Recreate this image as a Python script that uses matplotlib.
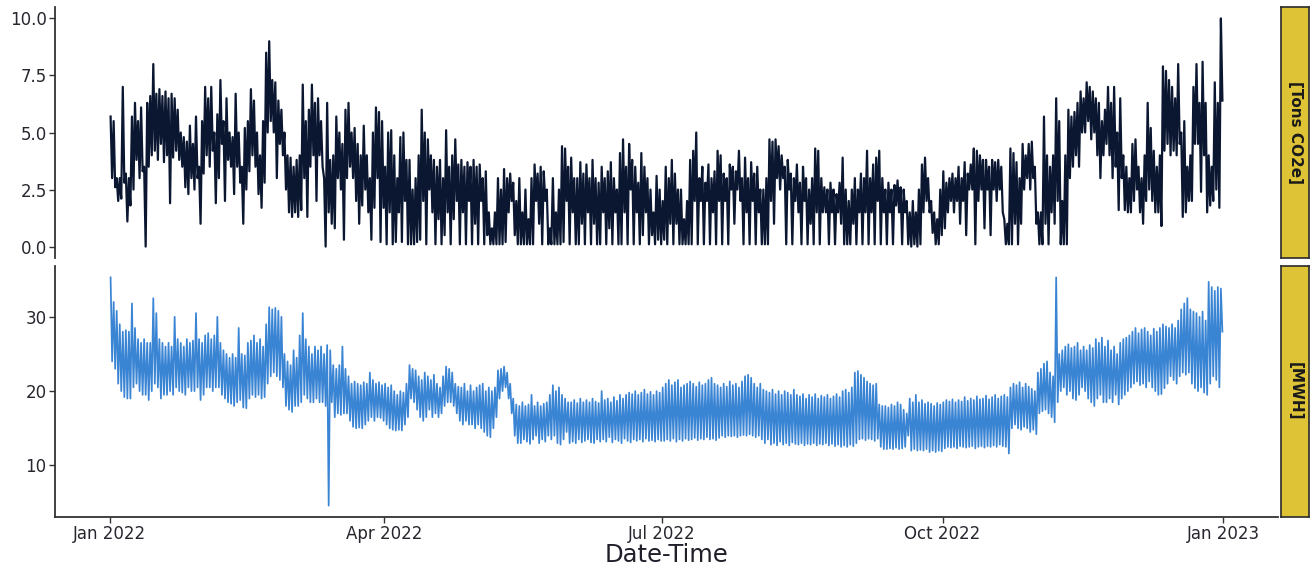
import numpy as np
import pandas as pd
import matplotlib
matplotlib.use("Agg")
import matplotlib.pyplot as plt
import matplotlib.dates as mdates
from matplotlib.ticker import FormatStrFormatter

plt.rcParams['font.family'] = ['DejaVu Sans']

# ---------------- data (daily high / low) ----------------
start_date = "2022-01-01"

co2_high = [
    # Jan
    5.7, 5.5, 3.0, 3.0, 7.0, 3.2, 3.0, 5.7, 6.3, 5.5, 6.1, 3.5, 6.3, 6.6, 8.0, 6.7,
    6.9, 6.6, 6.8, 6.5, 6.7, 6.5, 6.0, 5.0, 4.8, 4.6, 5.3, 4.5, 5.7, 3.5, 5.5,
    # Feb
    7.0, 6.5, 7.0, 5.0, 5.8, 7.3, 5.5, 6.5, 5.0, 4.8, 6.7, 5.0, 3.5, 5.2, 5.5, 6.9,
    6.4, 5.0, 4.0, 5.5, 8.5, 9.0, 7.3, 7.2, 6.4, 6.0, 5.0, 4.0,
    # Mar
    3.9, 3.5, 3.8, 4.0, 7.1, 5.5, 6.0, 7.1, 6.3, 6.5, 5.5, 3.0, 6.3, 3.8, 4.0, 5.7,
    5.0, 4.5, 6.0, 6.3, 5.0, 5.2, 4.5, 4.0, 5.3, 4.0, 3.0, 5.0, 6.1, 5.9, 5.5,
    # Apr
    3.5, 5.0, 5.1, 4.0, 3.0, 4.8, 5.0, 3.8, 3.8, 2.5, 3.0, 4.0, 6.0, 5.0, 4.7, 4.0,
    3.8, 3.5, 3.8, 3.0, 5.1, 3.5, 4.0, 4.7, 3.6, 3.8, 3.5, 3.7, 3.5, 3.8,
    # May
    3.5, 3.6, 3.0, 3.3, 1.5, 0.8, 1.5, 3.0, 2.5, 3.4, 3.0, 3.2, 2.8, 2.0, 3.0, 1.5,
    2.5, 1.2, 3.0, 3.6, 3.2, 3.5, 3.3, 2.5, 0.8, 3.0, 1.5, 2.5, 4.4, 4.3, 3.5,
    # Jun
    3.9, 3.0, 3.0, 3.7, 3.2, 3.6, 3.0, 3.8, 3.0, 2.8, 3.5, 3.0, 3.3, 3.7, 3.0, 2.5,
    4.1, 4.7, 3.5, 4.5, 3.8, 3.5, 2.8, 4.1, 3.5, 3.0, 2.5, 1.5, 3.1, 2.5,
    # Jul
    2.0, 3.5, 3.0, 3.8, 3.2, 2.5, 2.5, 1.2, 2.0, 3.8, 4.2, 5.0, 3.0, 3.5, 2.8, 3.6,
    3.0, 3.3, 4.2, 4.0, 3.2, 3.0, 3.6, 3.5, 3.3, 4.2, 3.0, 3.9, 3.0, 3.7, 3.2,
    # Aug
    3.5, 2.5, 2.5, 3.0, 4.7, 4.6, 4.7, 4.4, 4.0, 3.5, 3.8, 3.2, 3.0, 3.6, 2.8, 3.5,
    3.0, 2.5, 3.0, 4.3, 4.2, 3.0, 2.6, 2.5, 2.8, 2.5, 2.3, 2.8, 3.9, 2.5, 2.0,
    # Sep
    2.5, 3.0, 2.5, 3.2, 3.0, 4.2, 3.0, 3.6, 3.9, 4.2, 3.0, 2.5, 2.8, 2.5, 2.7, 2.9,
    2.6, 2.5, 2.0, 1.5, 2.0, 1.5, 2.5, 3.6, 3.9, 3.0, 2.0, 1.5, 1.2, 2.5,
    # Oct
    3.3, 2.8, 3.0, 3.2, 3.0, 3.5, 3.0, 3.7, 3.2, 3.6, 4.3, 4.2, 4.0, 3.8, 3.8, 3.5,
    3.8, 3.7, 3.8, 3.5, 1.2, 1.0, 4.3, 4.1, 3.7, 3.0, 4.5, 4.0, 4.5, 4.6, 3.5,
    # Nov
    1.5, 1.5, 5.7, 4.0, 3.5, 4.0, 6.5, 5.5, 2.0, 4.0, 6.0, 5.7, 5.9, 6.3, 6.8, 6.5,
    7.2, 7.0, 6.8, 6.5, 6.3, 5.5, 6.0, 7.0, 6.3, 7.0, 5.0, 6.5, 4.0, 3.5,
    # Dec
    3.0, 4.5, 4.7, 3.5, 3.0, 4.0, 6.3, 5.2, 4.2, 3.5, 4.0, 7.9, 7.7, 7.3, 7.0, 6.5,
    8.0, 5.0, 5.5, 3.5, 4.0, 7.0, 8.0, 6.3, 8.1, 6.3, 4.0, 3.5, 7.2, 6.3, 10.0,
]

co2_low = [
    # Jan
    3.0, 2.6, 2.0, 2.1, 2.8, 1.1, 1.8, 2.5, 3.8, 3.0, 3.3, 0.0, 3.5, 4.0, 4.2, 3.8,
    4.5, 3.7, 4.0, 1.9, 3.9, 4.2, 3.8, 3.5, 2.6, 2.3, 3.0, 2.5, 3.0, 1.0, 3.2,
    # Feb
    4.0, 3.5, 4.2, 1.9, 3.0, 4.5, 2.0, 3.8, 3.5, 2.3, 3.5, 2.8, 1.0, 2.5, 3.3, 4.0,
    3.5, 2.3, 1.7, 2.8, 5.0, 5.5, 5.0, 3.0, 4.5, 4.0, 2.5, 1.5,
    # Mar
    1.3, 1.5, 1.3, 1.6, 3.0, 1.3, 3.5, 4.0, 2.0, 4.0, 3.5, 0.0, 1.5, 1.0, 0.8, 3.0,
    2.5, 0.3, 3.0, 3.5, 3.0, 2.0, 1.0, 1.8, 2.5, 1.5, 0.3, 1.7, 3.0, 0.2, 1.7,
    # Apr
    0.1, 1.5, 0.1, 0.2, 1.5, 0.2, 2.0, 0.1, 0.1, 0.1, 0.2, 0.3, 2.0, 0.1, 2.5, 1.5,
    0.1, 1.2, 0.1, 0.5, 1.5, 0.1, 1.2, 2.0, 0.1, 1.5, 0.1, 2.0, 0.1, 1.0,
    # May
    0.1, 2.0, 0.1, 0.5, 0.1, 0.1, 0.1, 0.1, 0.1, 0.2, 1.5, 2.0, 0.5, 0.1, 0.1, 0.1,
    0.1, 0.1, 0.1, 2.0, 1.0, 0.1, 2.0, 0.1, 0.1, 0.1, 0.1, 0.1, 0.2, 2.0, 0.1,
    # Jun
    1.5, 0.1, 0.1, 1.0, 0.1, 1.5, 0.1, 1.0, 0.1, 0.1, 1.5, 0.1, 0.8, 0.1, 1.5, 0.1,
    0.1, 1.5, 0.1, 2.5, 0.1, 1.5, 0.1, 0.5, 1.5, 0.1, 0.5, 0.1, 0.3, 0.1,
    # Jul
    0.3, 0.1, 1.0, 0.1, 1.0, 0.1, 0.1, 0.1, 0.1, 0.1, 2.0, 0.1, 2.0, 0.1, 2.0, 0.1,
    1.5, 0.1, 2.0, 0.1, 2.0, 0.1, 2.5, 1.0, 2.5, 2.0, 0.1, 1.5, 0.1, 2.0, 0.1,
    # Aug
    1.5, 0.1, 0.1, 0.1, 2.0, 1.0, 3.0, 2.5, 3.0, 0.1, 2.5, 0.1, 2.0, 1.5, 0.1, 2.0,
    0.1, 1.0, 0.1, 1.5, 0.1, 1.5, 1.5, 0.1, 1.5, 0.1, 1.5, 1.0, 0.1, 0.1, 0.1,
    # Sep
    1.0, 0.1, 1.5, 0.1, 1.5, 0.1, 1.5, 0.1, 2.0, 0.1, 1.5, 0.1, 1.5, 0.1, 1.8, 1.5,
    0.1, 1.5, 0.1, 0.0, 0.1, 0.0, 0.1, 1.5, 2.0, 1.5, 0.6, 0.1, 0.1, 0.5,
    # Oct
    0.8, 1.5, 2.0, 1.5, 2.0, 1.0, 2.0, 0.5, 2.5, 2.5, 0.1, 2.0, 2.5, 0.8, 2.5, 0.5,
    2.5, 2.0, 2.5, 1.5, 0.1, 0.1, 0.1, 1.0, 0.1, 1.0, 2.5, 3.0, 2.5, 3.0, 1.0,
    # Nov
    0.1, 0.1, 1.0, 0.1, 1.5, 1.0, 2.0, 0.1, 0.1, 0.1, 3.0, 3.5, 4.0, 3.5, 5.0, 5.0,
    5.5, 4.7, 5.0, 4.0, 3.0, 4.0, 4.5, 4.0, 3.0, 3.5, 1.6, 3.0, 1.6, 1.5,
    # Dec
    1.5, 2.0, 2.5, 1.5, 1.0, 2.0, 2.5, 2.0, 1.5, 1.5, 0.9, 4.2, 4.5, 4.0, 4.2, 4.0,
    4.5, 1.3, 1.5, 2.0, 2.0, 4.5, 4.5, 2.4, 4.0, 1.5, 1.8, 2.0, 2.5, 1.7, 6.4,
]

mwh_high = [
    # Jan
    35.3, 32.0, 30.8, 29.0, 28.0, 28.2, 28.0, 31.8, 28.5, 27.0, 26.5, 27.0, 26.5, 26.5,
    32.5, 30.5, 27.0, 26.5, 26.0, 26.5, 26.0, 30.0, 27.0, 26.5, 26.0, 27.0, 26.5, 26.8,
    30.5, 27.0, 26.5,
    # Feb
    27.5, 27.8, 27.0, 27.5, 30.0, 26.5, 25.5, 25.0, 24.5, 25.0, 24.5, 28.5, 25.0, 24.8,
    26.5, 26.8, 27.5, 26.5, 27.0, 26.0, 29.0, 31.3, 31.0, 31.2, 30.8, 30.0, 25.0, 24.0,
    # Mar
    23.5, 25.5, 24.5, 27.5, 30.5, 27.0, 26.0, 25.0, 26.0, 25.5, 26.0, 25.0, 26.2, 25.5,
    23.5, 23.0, 23.5, 26.0, 23.0, 22.0, 21.0, 21.3, 21.0, 20.8, 21.2, 21.0, 22.5, 21.5,
    21.0, 21.2, 20.8,
    # Apr
    21.0, 20.5, 20.8, 20.0, 19.5, 20.0, 19.8, 21.0, 23.5, 23.0, 22.8, 22.0, 21.5, 22.5,
    22.0, 21.5, 22.2, 21.0, 20.5, 22.0, 23.3, 23.0, 22.5, 21.0, 20.6, 20.5, 21.0, 20.0,
    20.8, 20.0,
    # May
    20.5, 20.8, 21.0, 20.0, 20.5, 20.0, 20.5, 22.8, 23.0, 23.3, 22.5, 21.0, 19.0, 18.2,
    18.0, 18.5, 18.0, 18.2, 19.5, 18.0, 18.5, 18.0, 18.3, 18.5, 19.5, 20.8, 20.0, 20.5,
    19.5, 19.0, 18.5,
    # Jun
    18.5, 18.8, 18.4, 19.0, 18.5, 18.8, 18.5, 19.0, 18.6, 18.4, 20.0, 18.8, 19.0, 18.5,
    19.2, 18.7, 19.5, 19.0, 19.5, 19.8, 19.6, 20.0, 19.5, 19.8, 20.2, 19.6, 19.9, 19.5,
    20.0, 19.8,
    # Jul
    20.5, 21.0, 21.5, 20.8, 21.2, 21.5, 20.5, 20.8, 21.0, 21.3, 21.0, 20.6, 21.2, 20.8,
    21.0, 21.5, 21.8, 21.0, 20.8, 20.5, 21.0, 20.6, 21.3, 20.8, 21.0, 20.5, 21.3, 22.0,
    22.2, 21.8, 21.0,
    # Aug
    20.5, 21.0, 20.2, 20.0, 19.8, 20.2, 19.6, 20.0, 19.5, 20.0, 19.8, 19.5, 20.2, 19.5,
    19.3, 19.6, 19.0, 19.5, 19.2, 19.6, 19.0, 19.4, 19.2, 19.5, 19.0, 19.3, 19.6, 19.2,
    20.0, 20.2, 19.8,
    # Sep
    20.5, 22.5, 22.7, 22.2, 21.8, 21.3, 21.0, 20.8, 21.0, 18.2, 18.0, 18.0, 17.8, 18.2,
    18.0, 18.5, 18.2, 17.5, 17.0, 19.0, 18.5, 19.5, 18.5, 18.8, 18.3, 18.5, 18.3, 18.0,
    18.4, 18.2,
    # Oct
    18.5, 18.8, 18.6, 18.9, 18.5, 18.8, 18.6, 19.2, 18.7, 19.0, 18.8, 19.3, 18.9, 19.0,
    19.4, 18.9, 19.2, 19.5, 19.0, 19.3, 19.5, 19.2, 20.5, 21.0, 20.8, 21.2, 20.5, 21.0,
    20.6, 20.3, 20.0,
    # Nov
    22.5, 23.0, 23.7, 24.0, 22.5, 22.0, 35.3, 25.0, 25.5, 26.0, 26.3, 25.8, 26.0, 26.5,
    25.5, 26.0, 25.5, 26.2, 25.8, 27.0, 26.5, 27.2, 26.0, 26.8, 25.5, 26.0, 25.0, 26.5,
    27.0, 27.2,
    # Dec
    27.5, 28.0, 28.5, 27.8, 28.3, 28.5, 28.0, 27.5, 28.4, 28.0, 28.5, 29.0, 28.7, 28.5,
    29.0, 28.5, 29.5, 31.0, 31.8, 32.5, 31.0, 30.7, 30.5, 30.0, 30.7, 29.5, 34.7, 34.0,
    33.5, 34.0, 33.8,
]

mwh_low = [
    # Jan
    24.0, 23.0, 21.0, 20.0, 19.2, 19.0, 19.0, 20.5, 21.0, 20.0, 19.5, 19.5, 18.8, 20.0,
    21.0, 20.5, 19.0, 19.5, 19.5, 20.0, 19.5, 20.5, 20.0, 19.8, 19.5, 20.5, 20.0, 20.0,
    20.5, 18.8, 19.5,
    # Feb
    20.5, 20.5, 20.0, 20.5, 20.5, 19.5, 19.0, 18.5, 18.3, 18.0, 18.5, 18.8, 17.8, 17.7,
    19.0, 19.5, 19.2, 19.5, 19.0, 19.2, 21.0, 22.0, 22.5, 22.0, 21.5, 20.5, 18.0, 17.5,
    # Mar
    17.2, 18.0, 18.0, 18.5, 19.5, 19.0, 18.5, 18.5, 19.0, 18.5, 18.5, 18.0, 4.6, 18.5,
    16.5, 17.0, 16.8, 17.0, 17.0, 16.0, 15.2, 15.0, 15.1, 15.0, 15.5, 16.0, 16.5, 16.0,
    16.5, 16.4, 16.0,
    # Apr
    15.5, 15.0, 14.8, 14.7, 14.8, 14.7, 15.5, 16.5, 19.0, 18.5, 17.5, 16.5, 16.0, 16.5,
    17.5, 16.5, 17.0, 16.5, 17.0, 18.0, 18.5, 18.5, 18.0, 17.0, 16.0, 15.5, 16.0, 15.5,
    15.5, 15.0,
    # May
    15.5, 15.0, 14.5, 14.0, 13.8, 15.0, 16.5, 19.0, 20.0, 20.5, 19.0, 17.0, 14.0, 13.0,
    13.0, 13.5, 13.2, 12.9, 13.5, 14.0, 13.0, 13.5, 13.2, 14.0, 13.5, 14.0, 13.0, 12.8,
    13.5, 14.5, 13.0,
    # Jun
    13.2, 13.0, 13.5, 13.1, 13.3, 13.5, 13.1, 13.0, 13.5, 13.2, 13.5, 13.2, 13.8, 13.1,
    13.5, 13.3, 13.0, 13.6, 13.3, 13.1, 13.5, 13.3, 13.5, 13.2, 13.6, 13.3, 13.4, 13.2,
    13.5, 13.3,
    # Jul
    13.3, 13.5, 13.3, 13.6, 13.2, 13.5, 13.3, 13.6, 13.4, 13.5, 13.7, 13.4, 13.6, 13.5,
    13.8, 13.5, 13.6, 13.4, 13.7, 14.0, 13.8, 14.0, 13.9, 14.0, 13.8, 14.0, 14.1, 14.0,
    14.2, 14.0, 13.8,
    # Aug
    14.0, 13.5, 13.0, 13.5, 12.8, 13.0, 12.7, 13.2, 12.8, 13.0, 12.7, 13.1, 12.9, 12.8,
    13.0, 12.7, 12.9, 12.8, 13.0, 12.7, 12.9, 12.8, 13.0, 12.7, 12.9, 12.6, 12.8, 12.5,
    12.7, 12.5, 12.8,
    # Sep
    12.6, 13.0, 13.5, 13.6, 13.4, 13.6, 13.5, 13.3, 13.6, 12.5, 12.2, 12.2, 12.3, 12.2,
    12.4, 12.2, 12.3, 12.5, 14.0, 12.0, 12.2, 12.0, 12.1, 12.0, 12.2, 11.8, 12.0, 11.8,
    12.0, 11.9,
    # Oct
    12.3, 12.5, 12.4, 12.5, 12.3, 12.6, 12.5, 12.4, 12.5, 12.6, 12.3, 12.5, 12.6, 12.4,
    12.6, 12.5, 12.7, 12.5, 12.8, 12.6, 12.5, 11.6, 15.0, 15.5, 15.0, 14.8, 15.2, 15.0,
    14.5, 14.8, 14.2,
    # Nov
    17.0, 17.3, 17.5, 17.0, 16.5, 15.8, 18.5, 20.0, 20.5, 19.5, 20.0, 19.0, 18.8, 19.5,
    20.5, 20.0, 19.0, 18.5, 18.0, 19.0, 19.5, 18.5, 18.5, 19.0, 18.5, 19.5, 18.2, 19.0,
    19.5, 20.0,
    # Dec
    20.5, 21.0, 21.3, 20.8, 21.0, 20.5, 21.3, 20.5, 20.0, 19.5, 19.6, 20.4, 21.0, 22.0,
    21.5, 21.0, 22.0, 22.5, 22.2, 22.5, 21.0, 20.4, 20.0, 20.5, 19.8, 19.5, 21.0, 22.0,
    21.5, 20.5, 28.0,
]

panel_labels = ["[Tons CO2e]", "[MWH]"]
x_ticks = ["2022-01-01", "2022-04-01", "2022-07-01", "2022-10-01", "2023-01-01"]
co2_ticks = [0.0, 2.5, 5.0, 7.5, 10.0]
mwh_ticks = [10, 20, 30]


def to_series(high, low):
    n = min(len(high), len(low))
    days = pd.date_range(start_date, periods=n, freq="D")
    t = np.empty(2 * n, dtype="datetime64[ns]")
    t[0::2] = (days + pd.Timedelta(hours=6)).values
    t[1::2] = (days + pd.Timedelta(hours=18)).values
    v = np.empty(2 * n)
    v[0::2] = np.asarray(high[:n], dtype=float)
    v[1::2] = np.asarray(low[:n], dtype=float)
    return t, v


def expand(vals, frac=0.05):
    lo, hi = float(np.min(vals)), float(np.max(vals))
    pad = (hi - lo) * frac
    return lo - pad, hi + pad


t_co2, v_co2 = to_series(co2_high, co2_low)
t_mwh, v_mwh = to_series(mwh_high, mwh_low)

W, H = 1312, 569
fig = plt.figure(figsize=(W / 100, H / 100), dpi=100)
fig.patch.set_facecolor("white")

left, right = 55, 1278
top1, bot1 = 7, 258
top2, bot2 = 266, 517
ax1 = fig.add_axes([left / W, 1 - bot1 / H, (right - left) / W, (bot1 - top1) / H])
ax2 = fig.add_axes([left / W, 1 - bot2 / H, (right - left) / W, (bot2 - top2) / H], sharex=ax1)

text_col = "#26262f"
axis_col = "#333333"

ax1.plot(t_co2, v_co2, color="#0b1731", lw=1.6)
ax2.plot(t_mwh, v_mwh, color="#3a84d4", lw=1.25)

# x limits with ggplot-like 5% expansion
tnum = mdates.date2num(np.concatenate([t_co2, t_mwh]))
x0, x1 = expand(tnum)
ax1.set_xlim(x0, x1)
ax1.set_ylim(*expand(v_co2))
ax2.set_ylim(*expand(v_mwh))

ax1.set_yticks(co2_ticks)
ax1.yaxis.set_major_formatter(FormatStrFormatter("%.1f"))
ax2.set_yticks(mwh_ticks)
ax2.set_xticks([mdates.date2num(pd.Timestamp(d)) for d in x_ticks])
ax2.xaxis.set_major_formatter(mdates.DateFormatter("%b %Y"))

for ax in (ax1, ax2):
    for s in ("top", "right"):
        ax.spines[s].set_visible(False)
    ax.spines["left"].set_color(axis_col)
    ax.spines["left"].set_linewidth(1.3)
    ax.spines["bottom"].set_color(axis_col)
    ax.spines["bottom"].set_linewidth(1.3)
    ax.tick_params(axis="both", colors=axis_col, labelcolor=text_col,
                   labelsize=12, length=4, width=1.0, direction="out", pad=2)
    ax.set_facecolor("white")

ax1.spines["bottom"].set_visible(False)
ax1.tick_params(axis="x", bottom=False, labelbottom=False)

ax2.set_xlabel("Date-Time", fontsize=17.5, color="#1f1f2a", labelpad=0)

# facet strips on the right
for (tp, bt), lab in zip([(top1, bot1), (top2, bot2)], panel_labels):
    sax = fig.add_axes([1281 / W, 1 - bt / H, 28 / W, (bt - tp) / H])
    sax.set_facecolor("#dfc336")
    sax.set_xticks([])
    sax.set_yticks([])
    for s in sax.spines.values():
        s.set_color("#2a2a2a")
        s.set_linewidth(1.2)
    sax.text(0.5, 0.5, lab, rotation=270, ha="center", va="center",
             fontsize=11, fontweight="bold", color="#1a1a1a",
             transform=sax.transAxes)

fig.savefig("out.png", dpi=100, facecolor="white")
